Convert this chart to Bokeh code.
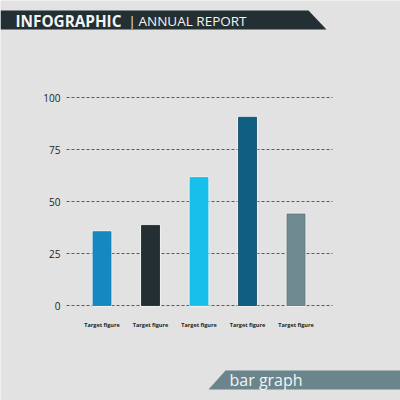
from bokeh.embed import file_html
from bokeh.resources import INLINE
from bokeh.models import PolyAnnotation, Label, FixedTicker
from bokeh.plotting import figure

categories = ["Target figure"] * 5
values = [35.5, 38.5, 61.5, 90.5, 44]
colors = ["#1588c2", "#232f33", "#16c0ea", "#105f82", "#6f8a91"]
edge_colors = ["#1380b8", "#1a2326", "#16c0ea", "#0b4a6b", "#5c757c"]
y_ticks = [0, 25, 50, 75, 100]
positions = list(range(len(values)))

BG = "#e2e2e2"
W = H = 400
PX_X = 48.5   # canvas px per category
PX_Y = 2.08   # canvas px per value unit
X0 = 101.5    # canvas x of the first category
Y0 = 305      # canvas y of value 0
GRID_L, GRID_R = (66 - X0) / PX_X, (332 - X0) / PX_X

p = figure(width=W, height=H, output_backend="svg", toolbar_location=None,
           x_range=(-X0 / PX_X, (W - X0) / PX_X),
           y_range=((Y0 - H) / PX_Y, Y0 / PX_Y),
           background_fill_color=BG, border_fill_color=BG, outline_line_color=None,
           min_border=0)

p.xgrid.visible = False
p.ygrid.visible = False
grid = p.segment(x0=[GRID_L] * len(y_ticks), x1=[GRID_R] * len(y_ticks), y0=y_ticks, y1=y_ticks,
                 line_color="#5c5c5c", line_width=1)
grid.glyph.line_dash = [3, 2]
p.vbar(x=positions, top=values, bottom=0, width=18 / PX_X, fill_color=colors,
       line_color="#ffffff", line_alpha=0.65, line_width=2.4)
p.vbar(x=positions, top=values, bottom=0, width=18 / PX_X, fill_color=colors,
       line_color=edge_colors, line_width=0.8)

ax = p.xaxis[0]
ax.fixed_location = 0
ax.ticker = FixedTicker(ticks=positions)
ax.major_label_overrides = {i: c for i, c in zip(positions, categories)}
ax.axis_line_color = None
ax.major_tick_line_color = None
ax.minor_tick_line_color = None
ax.major_label_text_font = "Open Sans"
ax.major_label_text_font_style = "bold"
ax.major_label_text_font_size = "5.5px"
ax.major_label_text_color = "#222222"
ax.major_label_standoff = 9

ay = p.yaxis[0]
ay.fixed_location = GRID_L
ay.ticker = FixedTicker(ticks=y_ticks)
ay.axis_line_color = None
ay.major_tick_line_color = None
ay.minor_tick_line_color = None
ay.major_label_text_font = "Open Sans"
ay.major_label_text_font_size = "10px"
ay.major_label_text_color = "#222222"
ay.major_label_standoff = 0

p.add_layout(PolyAnnotation(xs=[0, 308, 326, 0], ys=[H - 10, H - 10, H - 29, H - 29],
                            xs_units="screen", ys_units="screen", fill_color="#232f33", fill_alpha=1,
                            line_color=None, level="overlay"))
p.add_layout(PolyAnnotation(xs=[225, 400, 400, 208], ys=[H - 370, H - 370, H - 389, H - 389],
                            xs_units="screen", ys_units="screen", fill_color="#6b858c", fill_alpha=1,
                            line_color=None, level="overlay"))


def text(x, y, s, size, style="normal", font="Open Sans"):
    p.add_layout(Label(x=x, y=H - y, x_units="screen", y_units="screen", text=s,
                       text_font=font, text_font_size=size, text_font_style=style, text_color="#f4f4f4",
                       text_baseline="middle", text_align="left", level="overlay"))


text(15, 20, "INFOGRAPHIC", "15.3px", "bold")
text(128, 20, "|", "13px")
text(138, 20, "ANNUAL REPORT", "13.5px")
text(229, 379, "bar graph", "16px")

open("out.html", "w").write(file_html(p, INLINE))
